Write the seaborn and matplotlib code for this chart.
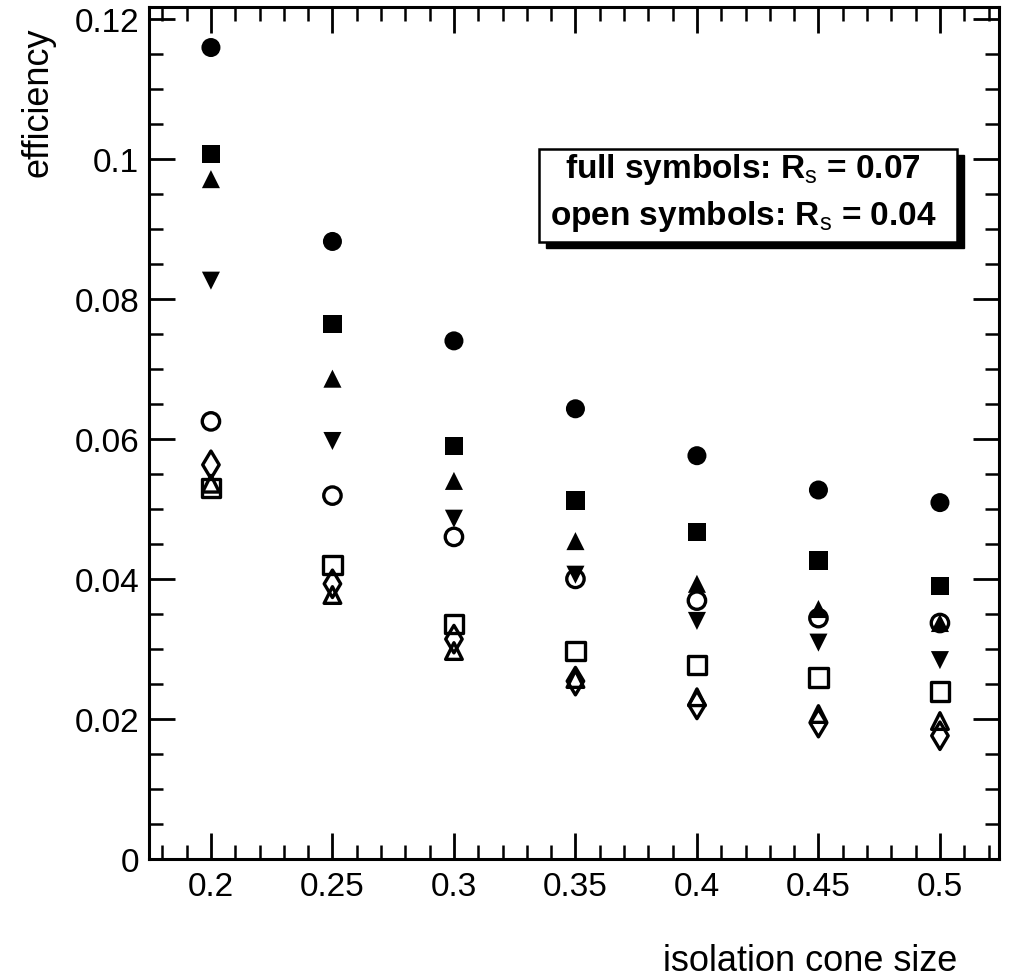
# efficiency vs isolation cone size, full symbols Rs=0.07, open symbols Rs=0.04
import matplotlib
matplotlib.use("Agg")
import matplotlib.pyplot as plt
import seaborn as sns
from matplotlib.patches import Rectangle
from matplotlib.ticker import MultipleLocator

# datos
cone_size = [0.2, 0.25, 0.3, 0.35, 0.4, 0.45, 0.5]

full_circle = [0.1159, 0.0882, 0.0740, 0.0643, 0.0576, 0.0527, 0.0509]
full_square = [0.1007, 0.0764, 0.0590, 0.0512, 0.0467, 0.0426, 0.0390]
full_tri_up = [0.0971, 0.0686, 0.0540, 0.0454, 0.0393, 0.0357, 0.0337]
full_tri_down = [0.0826, 0.0597, 0.0486, 0.0406, 0.0340, 0.0309, 0.0284]

open_circle = [0.0625, 0.0519, 0.0460, 0.0400, 0.0369, 0.0344, 0.0337]
open_square = [0.0530, 0.0420, 0.0336, 0.0297, 0.0277, 0.0259, 0.0239]
open_tri_up = [0.0536, 0.0377, 0.0297, 0.0257, 0.0231, 0.0207, 0.0197]
open_diamond = [0.0563, 0.0393, 0.0314, 0.0254, 0.0220, 0.0194, 0.0176]

x_ticks = [0.2, 0.25, 0.3, 0.35, 0.4, 0.45, 0.5]
x_labels = ["0.2", "0.25", "0.3", "0.35", "0.4", "0.45", "0.5"]
y_ticks = [0, 0.02, 0.04, 0.06, 0.08, 0.1, 0.12]
y_labels = ["0", "0.02", "0.04", "0.06", "0.08", "0.1", "0.12"]

sns.set_style("ticks")
plt.rcParams['font.family'] = ['Liberation Sans', 'DejaVu Sans']
plt.rcParams['mathtext.fontset'] = 'custom'
plt.rcParams['mathtext.rm'] = 'Liberation Sans'
plt.rcParams['mathtext.bf'] = 'Liberation Sans:bold'
for k in ['text.color', 'axes.labelcolor', 'xtick.color', 'ytick.color', 'axes.edgecolor']:
    plt.rcParams[k] = 'black'

fig = plt.figure(figsize=(10.1, 9.78), dpi=100)
ax = fig.add_axes([0.1475, 0.1207, 0.8416, 0.8712])

# simbolos llenos
for vals, m, size in [(full_circle, "o", 13.7), (full_square, "s", 13.5),
                      (full_tri_up, "^", 13), (full_tri_down, "v", 13)]:
    sns.scatterplot(x=cone_size, y=vals, marker=m, s=size ** 2, color="black",
                    edgecolor="none", linewidth=0, legend=False, ax=ax, zorder=3)

# simbolos abiertos
for vals, m, size in [(open_circle, "o", 12.5), (open_square, "s", 13.2),
                      (open_tri_up, "^", 12), (open_diamond, "d", 14)]:
    sns.scatterplot(x=cone_size, y=vals, marker=m, s=size ** 2, color="black",
                    facecolor="none", edgecolor="black", linewidth=2.4,
                    legend=False, ax=ax, zorder=3)

ax.set_xlim(0.1745, 0.5243)
ax.set_ylim(0, 0.1217)
ax.set_xticks(x_ticks)
ax.set_xticklabels(x_labels)
ax.set_yticks(y_ticks)
ax.set_yticklabels(y_labels)
ax.xaxis.set_minor_locator(MultipleLocator(0.01))
ax.yaxis.set_minor_locator(MultipleLocator(0.005))
ax.tick_params(which="both", direction="in", top=True, right=True, labelsize=24,
               colors="black")
ax.tick_params(which="major", length=19, width=2)
ax.tick_params(which="minor", length=10, width=1.8)
ax.tick_params(axis="x", pad=9)
ax.tick_params(axis="y", pad=7)
for sp in ax.spines.values():
    sp.set_linewidth(2.2)
    sp.set_color("black")
ax.set_xlabel("")
ax.set_ylabel("")

fig.text(0.0375, 0.972, "efficiency", rotation=90, ha="center", va="top", fontsize=26)
fig.text(0.9475, 0.0164, "isolation cone size", ha="right", va="center", fontsize=26)

# caja de texto con sombra
ax.add_patch(Rectangle((0.4672, 0.717), 0.4916, 0.1093, transform=ax.transAxes,
                       facecolor="black", edgecolor="black", zorder=4))
ax.add_patch(Rectangle((0.459, 0.724), 0.4916, 0.1093, transform=ax.transAxes,
                       facecolor="white", edgecolor="black", linewidth=1.8, zorder=5))
ax.text(0.699, 0.81, r"full symbols: R$_\mathrm{s}$ = 0.07", transform=ax.transAxes,
        ha="center", va="center", fontsize=24, fontweight="bold", zorder=6)
ax.text(0.699, 0.7547, r"open symbols: R$_\mathrm{s}$ = 0.04", transform=ax.transAxes,
        ha="center", va="center", fontsize=24, fontweight="bold", zorder=6)

plt.savefig("out.png", dpi=100)
